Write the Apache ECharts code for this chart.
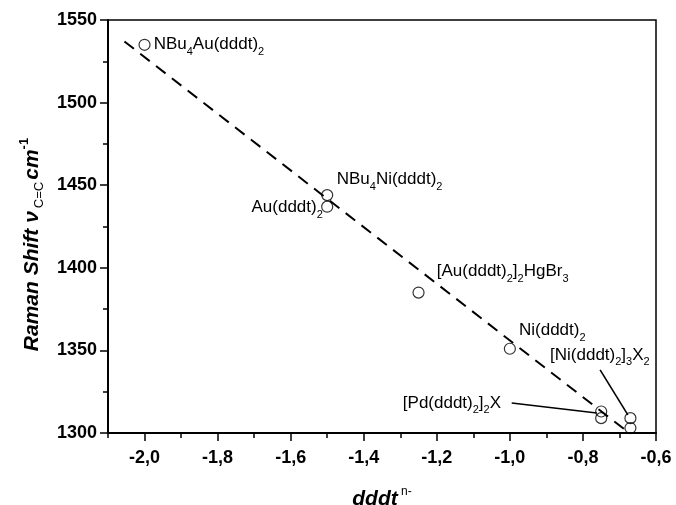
<!DOCTYPE html>
<html>
<head>
<meta charset="utf-8">
<script src="https://cdn.jsdelivr.net/npm/echarts@6/dist/echarts.min.js"></script>
<style>html,body{margin:0;padding:0;background:#fff}#c{width:676px;height:505px}</style>
</head>
<body>
<div id="c"></div>
<script>
// ---- data ----
const compounds = ['NBu4Au(dddt)2','NBu4Ni(dddt)2','Au(dddt)2','[Au(dddt)2]2HgBr3','Ni(dddt)2','[Pd(dddt)2]2X','[Pd(dddt)2]2X','[Ni(dddt)2]3X2','[Ni(dddt)2]3X2'];
const dddtCharge = [-2.0, -1.5, -1.5, -1.25, -1.0, -0.75, -0.75, -0.67, -0.67];
const ramanShift = [1535, 1444, 1437, 1385, 1351, 1313, 1309, 1309, 1303];
const fitX = [-2.055, -0.685];
const fitY = [1537, 1302];
const xTickLabels = [-2.0, -1.8, -1.6, -1.4, -1.2, -1.0, -0.8, -0.6];
const yTickLabels = [1300, 1350, 1400, 1450, 1500, 1550];
// annotation texts (rich markup for subscripts)
const annTexts = [
  '{t|NBu}{s|4}{t|Au(dddt)}{s|2}',
  '{t|NBu}{s|4}{t|Ni(dddt)}{s|2}',
  '{t|Au(dddt)}{s|2}',
  '{t|[Au(dddt)}{s|2}{t|]}{s|2}{t|HgBr}{s|3}',
  '{t|Ni(dddt)}{s|2}',
  '{t|[Pd(dddt)}{s|2}{t|]}{s|2}{t|X}',
  '{t|[Ni(dddt)}{s|2}{t|]}{s|3}{t|X}{s|2}'
];
const annX = [-1.975, -1.474, -1.512, -1.200, -0.975, -1.293, -0.890];
const annY = [1535.4, 1453.5, 1436.5, 1397.7, 1361.9, 1318.2, 1347.3];
const annSide = ['right','right','left','right','right','right','right'];
// arrows: [x0,y0,x1,y1]
const arrows = [[-0.995, 1318.2, -0.762, 1312.1], [-0.753, 1338.2, -0.677, 1311.0]];

const FONT = '"Liberation Sans", Arial, sans-serif';
const annRich = {
  t: {fontFamily: FONT, fontSize: 17, color: '#000', lineHeight: 26, verticalAlign: 'middle'},
  s: {fontFamily: FONT, fontSize: 11, color: '#000', lineHeight: 11, verticalAlign: 'bottom'}
};

const chart = echarts.init(document.getElementById('c'), null, {renderer: 'canvas'});
const fmt = v => (Math.round(v * 10) / 10).toFixed(1).replace('.', ',');

const option = {
  animation: false,
  backgroundColor: '#fff',
  grid: {left: 108, right: 20, top: 20, bottom: 72, containLabel: false, outerBoundsMode: 'none',
    show: true, borderColor: '#000', borderWidth: 1.5, backgroundColor: 'transparent'},
  xAxis: [{
    type: 'value', min: -2.1, max: -0.6, interval: 0.1,
    name: '{t|dddt} {p|n-}',
    nameLocation: 'middle', nameGap: 53,
    nameTextStyle: {
      rich: {
        t: {fontFamily: FONT, fontSize: 21, fontWeight: 'bold', fontStyle: 'italic', color: '#000', lineHeight: 26},
        p: {fontFamily: FONT, fontSize: 12, color: '#000', lineHeight: 12, verticalAlign: 'top'}
      }
    },
    axisLine: {show: true, onZero: false, lineStyle: {color: '#000', width: 2}},
    axisTick: {show: true, inside: false, length: 5, lineStyle: {color: '#000', width: 1.5}},
    axisLabel: {show: true, margin: 16, customValues: xTickLabels, formatter: fmt,
      fontFamily: FONT, fontSize: 18, fontWeight: 'bold', color: '#000'},
    splitLine: {show: false}
  }, {
    type: 'value', min: -2.1, max: -0.6, position: 'bottom', gridIndex: 0,
    axisLine: {show: false, onZero: false},
    axisTick: {show: true, inside: false, length: 8, customValues: xTickLabels, lineStyle: {color: '#000', width: 1.5}},
    axisLabel: {show: false},
    splitLine: {show: false}
  }],
  yAxis: {
    type: 'value', min: 1300, max: 1550, interval: 50,
    name: '{t|Raman Shift ν}{s|C=C}{t|cm}{p|-1}',
    nameLocation: 'middle', nameGap: 46, nameRotate: 90,
    nameTextStyle: {
      padding: [0, 36, 0, 0],
      rich: {
        t: {fontFamily: FONT, fontSize: 21, fontWeight: 'bold', fontStyle: 'italic', color: '#000', lineHeight: 28},
        s: {fontFamily: FONT, fontSize: 13, color: '#000', lineHeight: 13, verticalAlign: 'bottom', padding: [0, 2, 0, 3]},
        p: {fontFamily: FONT, fontSize: 13, fontWeight: 'bold', color: '#000', lineHeight: 13, verticalAlign: 'top'}
      }
    },
    axisLine: {show: true, onZero: false, lineStyle: {color: '#000', width: 2}},
    axisTick: {show: true, inside: false, length: 8, lineStyle: {color: '#000', width: 1.5}},
    minorTick: {show: true, splitNumber: 2, length: 5, lineStyle: {color: '#000', width: 1.5}},
    axisLabel: {margin: 11, fontFamily: FONT, fontSize: 18, fontWeight: 'bold', color: '#000',
      formatter: v => yTickLabels.includes(v) ? String(v) : ''},
    splitLine: {show: false}
  },
  series: [{
    type: 'line', name: 'fit', xAxisIndex: 0,
    data: fitX.map((x, i) => [x, fitY[i]]),
    symbol: 'none', silent: true,
    lineStyle: {color: '#000', width: 2, type: [12, 8]},
    markPoint: {
      symbol: 'circle', symbolSize: 0, silent: true,
      data: annTexts.map((t, i) => ({
        coord: [annX[i], annY[i]],
        label: {show: true, formatter: t, position: annSide[i], distance: 0, rich: annRich}
      }))
    },
    markLine: {
      silent: true, symbol: ['none', 'arrow'], symbolSize: [0, 10],
      label: {show: false},
      lineStyle: {color: '#000', width: 1.6, type: 'solid'},
      data: arrows.map(a => [{coord: [a[0], a[1]]}, {coord: [a[2], a[3]]}])
    }
  }, {
    type: 'scatter', name: 'data', xAxisIndex: 0, clip: false,
    data: dddtCharge.map((x, i) => ({value: [x, ramanShift[i]], name: compounds[i]})),
    symbol: 'circle', symbolSize: 11,
    itemStyle: {color: 'rgba(255,255,255,0)', borderColor: '#000', borderWidth: 1.2}
  }]
};
chart.setOption(option);
</script>
</body>
</html>
